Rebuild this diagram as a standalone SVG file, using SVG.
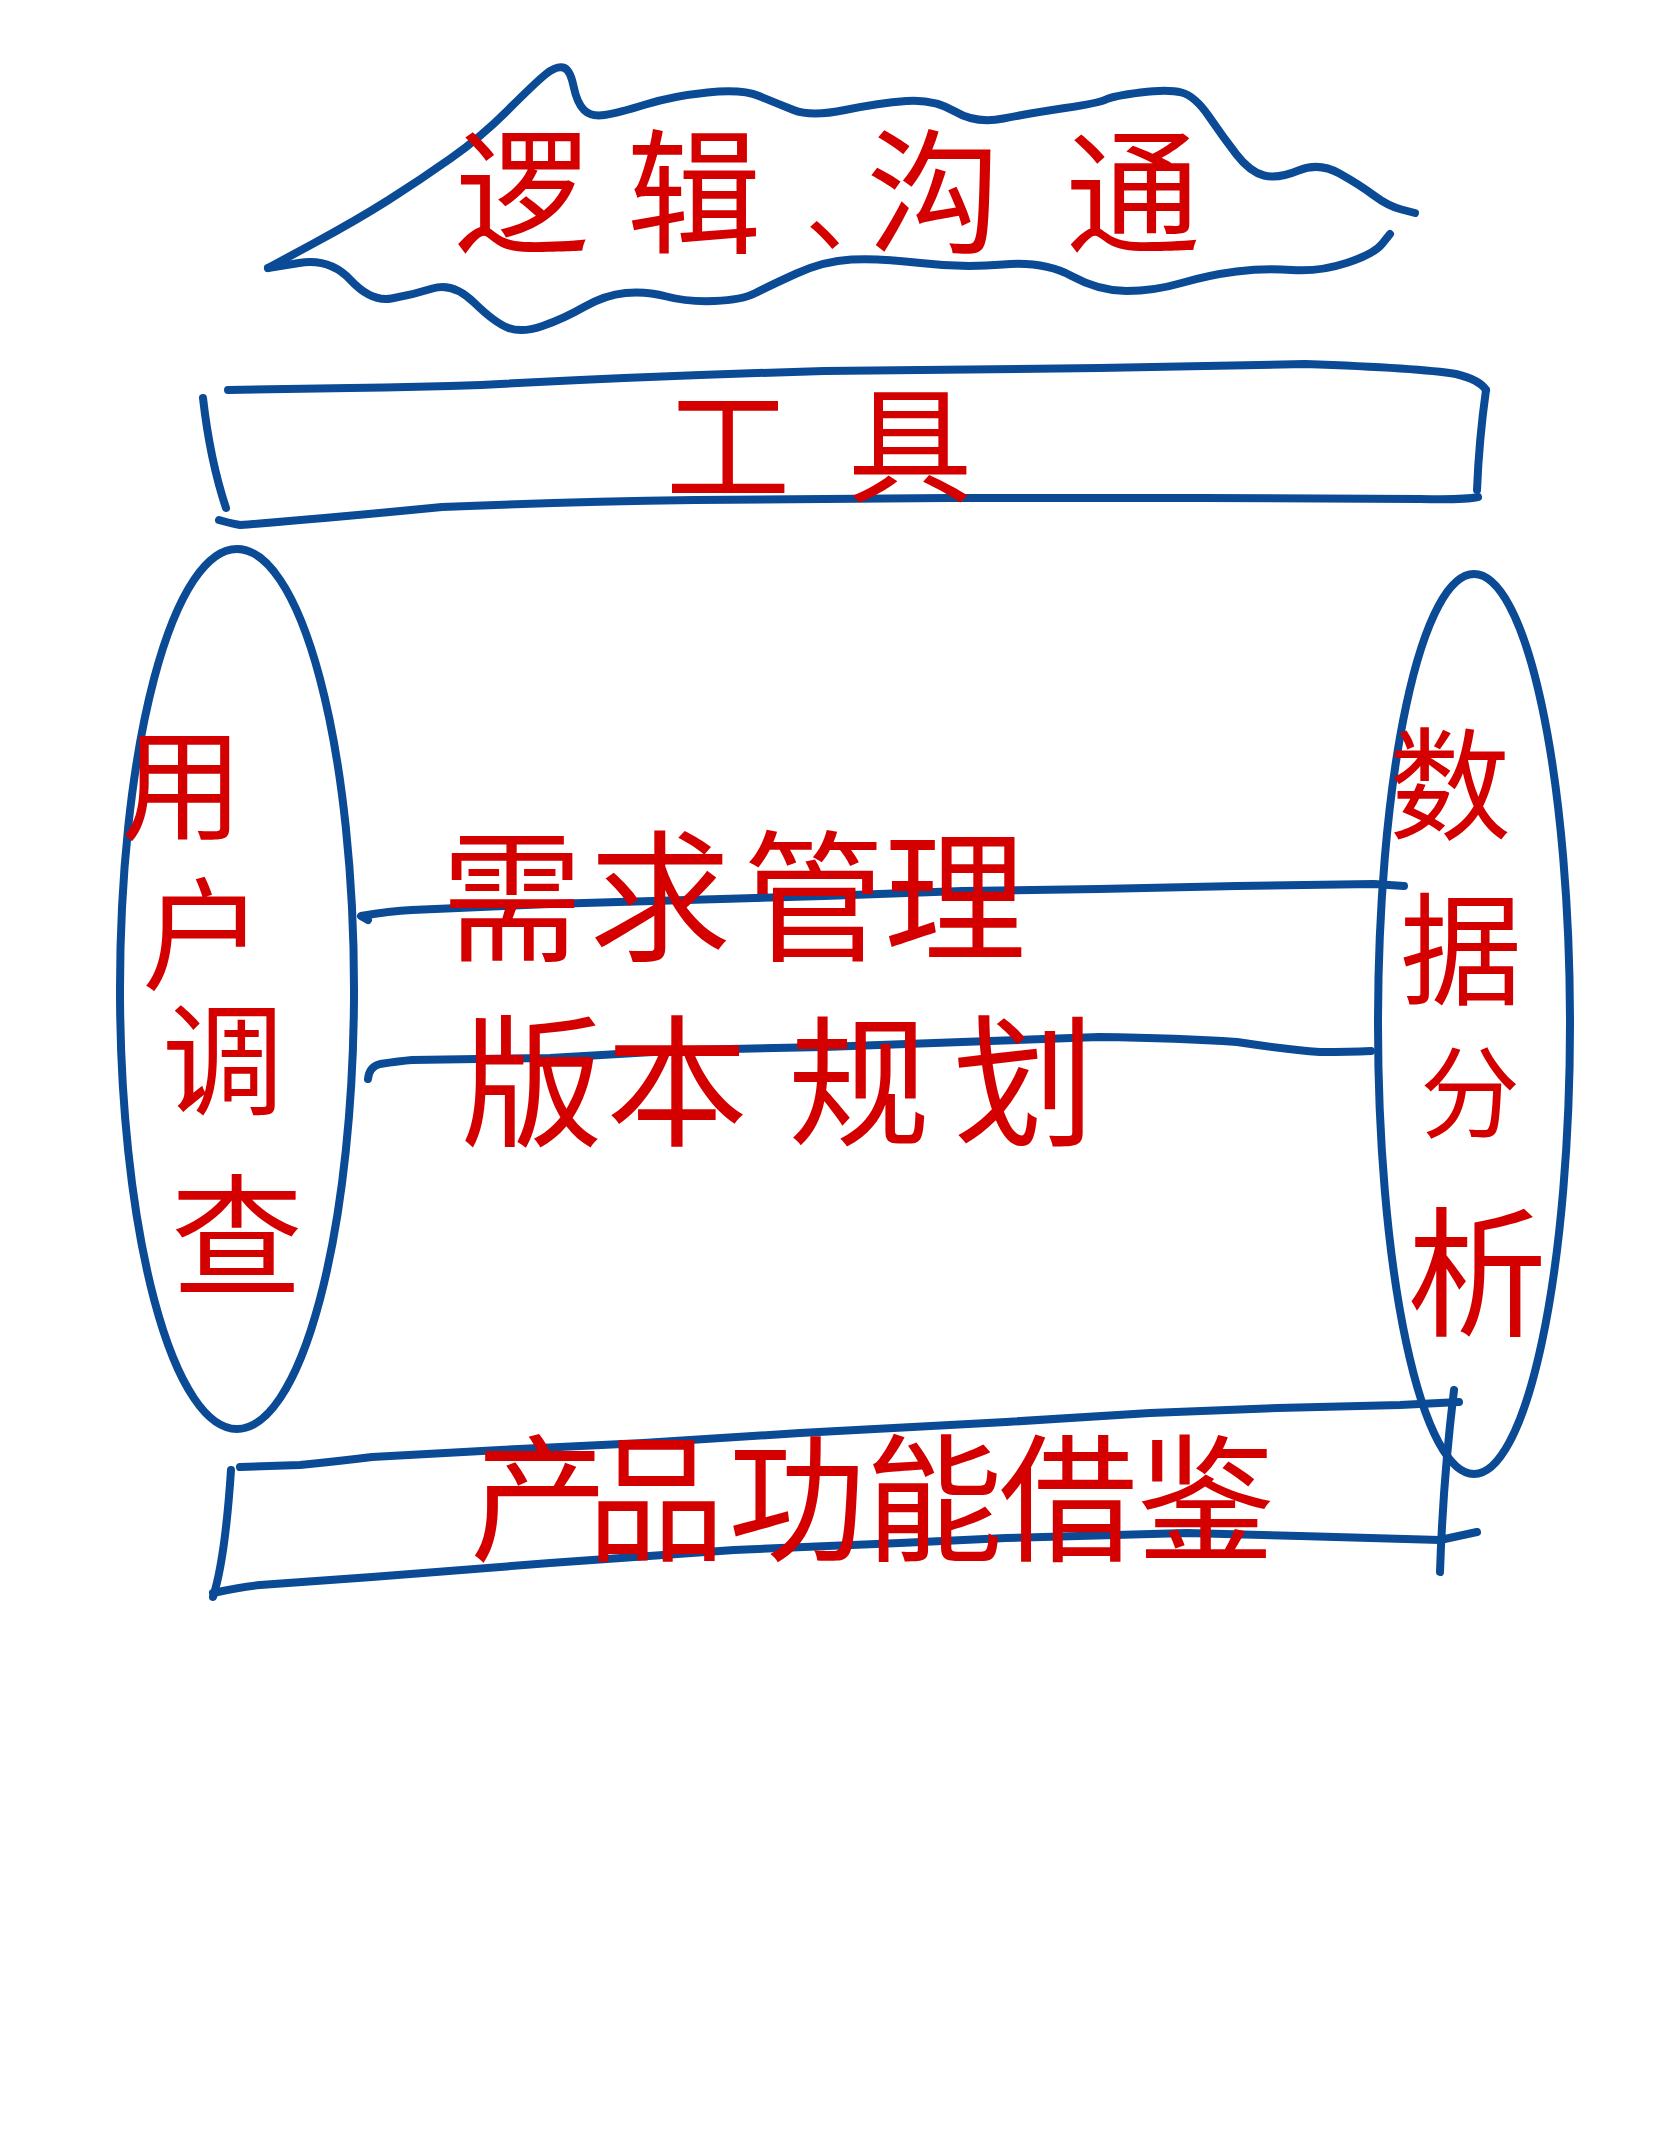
<svg xmlns="http://www.w3.org/2000/svg" width="1668" height="2154" viewBox="0 0 1668 2154">
<style>
.b{fill:none;stroke:#0b4a94;stroke-width:8;stroke-linecap:round;stroke-linejoin:round}
.t{fill:#d40000;font-family:"Noto Sans CJK SC","Noto Sans CJK TC",sans-serif;text-anchor:middle}
</style>
<rect width="1668" height="2154" fill="#ffffff"/>
<g id="logic-communication">
<path class="b" d="M268,268 L312.5,244 Q357,220 388.5,200 Q420,180 450.5,158.5 Q481,137 508.5,109.5 Q536,82 546,74 Q556,66 563,67.5 Q570,69 573.5,86 Q577,103 584,110 Q591,117 604.5,115 Q618,113 645.5,104.5 Q673,96 707.5,92.5 Q742,89 759,96 Q776,103 793.5,110 Q811,117 845,110 Q879,103 906.5,101 Q934,99 955,111.5 Q976,124 1003.5,118.5 Q1031,113 1065,108 Q1099,103 1106,99.5 Q1113,96 1140.5,92.5 Q1168,89 1181.5,92.5 Q1195,96 1209,116.5 Q1223,137 1236.5,154.5 Q1250,172 1264,175.5 Q1278,179 1298.5,170.5 Q1319,162 1339.5,173.5 Q1360,185 1374,195.5 Q1388,206 1401.5,209.5 L1415,213"/>
<path class="b" d="M268,268 L299,263 Q330,258 350.5,280 Q371,302 391.5,298.5 Q412,295 432.5,288.5 Q453,282 474,302.5 Q495,323 508.5,328 Q522,333 542.5,326 Q563,319 584,307 Q605,295 625.5,293 Q646,291 666.5,296.5 Q687,302 714.5,301 Q742,300 755.5,293 Q769,286 796.5,273.5 Q824,261 851.5,259.5 Q879,258 920.5,263 Q962,268 1003,264.5 Q1044,261 1071.5,276 Q1099,291 1126.5,291 Q1154,291 1181.5,283 Q1209,275 1236.5,271.5 Q1264,268 1291.5,270 Q1319,272 1346.5,263 Q1374,254 1382,244 L1390,234"/>
<text class="t" x="522" y="243" font-size="135">逻</text>
<text class="t" x="694" y="243" font-size="135">辑</text>
<text class="t" x="855" y="243" font-size="100">、</text>
<text class="t" x="934" y="243" font-size="135">沟</text>
<text class="t" x="1133" y="243" font-size="135">通</text>
</g>
<g id="tools">
<path class="b" d="M228,390 L350,388 Q420,387 481,385 Q650,376 824,371 L1099,368 Q1200,366 1305,364 Q1420,368 1456,374 Q1480,380 1486,390"/>
<path class="b" d="M1486,390 Q1479,440 1477,490"/>
<path class="b" d="M1478,497 Q1465,500 1420,499 L1200,498 L948,498 L695,500 Q560,502 442,507 Q330,518 240,525 Q225,522 219,520"/>
<path class="b" d="M203,398 Q210,460 226,508"/>
<text class="t" x="728" y="492" font-size="125">工</text>
<text class="t" x="910" y="492" font-size="125">具</text>
</g>
<g id="user-research">
<ellipse class="b" cx="237" cy="989" rx="117" ry="440"/>
<text class="t" x="182" y="830" font-size="122">用</text>
<text class="t" x="203" y="980" font-size="122">户</text>
<text class="t" x="223" y="1105" font-size="122">调</text>
<text class="t" x="237" y="1285" font-size="132">查</text>
</g>
<g id="data-analysis">
<ellipse class="b" cx="1474" cy="1024" rx="96" ry="450"/>
<text class="t" x="1450" y="830" font-size="122">数</text>
<text class="t" x="1461" y="995" font-size="122">据</text>
<text class="t" x="1470" y="1130" font-size="100">分</text>
<text class="t" x="1477" y="1325" font-size="140">析</text>
</g>
<g id="connectors">
<path class="b" d="M368,920 L361,916 Q390,911 412,910 L550,904 L687,900 L824,896 L962,891 L1099,889 L1237,886 L1374,884 L1404,886"/>
<path class="b" d="M368,1079 Q369,1067 380,1064 Q400,1061 412,1060 L550,1058 L687,1050 L824,1047 L962,1042 L1099,1037 Q1180,1038 1237,1042 Q1290,1050 1320,1052 Q1350,1052 1371,1051"/>
</g>
<g id="requirements-versions">
<text class="t" x="512" y="950" font-size="142">需</text>
<text class="t" x="660" y="950" font-size="142">求</text>
<text class="t" x="814" y="950" font-size="142">管</text>
<text class="t" x="955" y="950" font-size="142">理</text>
<text class="t" x="532" y="1135" font-size="142">版</text>
<text class="t" x="677" y="1135" font-size="142">本</text>
<text class="t" x="859" y="1135" font-size="142">规</text>
<text class="t" x="1024" y="1135" font-size="142">划</text>
</g>
<g id="product-reference">
<path class="b" d="M240,1467 L300,1465 Q340,1461 372,1457 L500,1450 L643,1443 L800,1433 L1006,1422 L1150,1413 L1278,1408 L1400,1405 L1459,1402"/>
<path class="b" d="M231,1470 Q225,1560 213,1597"/>
<path class="b" d="M213,1593 Q240,1587 260,1585 L372,1577 L550,1563 L734,1550 L900,1543 L1006,1538 L1187,1533 L1300,1536 L1440,1540 L1477,1532"/>
<path class="b" d="M1454,1390 Q1443,1480 1440,1572"/>
<text class="t" x="539" y="1550" font-size="138">产</text>
<text class="t" x="656" y="1550" font-size="138">品</text>
<text class="t" x="797" y="1550" font-size="138">功</text>
<text class="t" x="934" y="1550" font-size="138">能</text>
<text class="t" x="1068" y="1550" font-size="138">借</text>
<text class="t" x="1206" y="1550" font-size="138">鉴</text>
</g>
</svg>
